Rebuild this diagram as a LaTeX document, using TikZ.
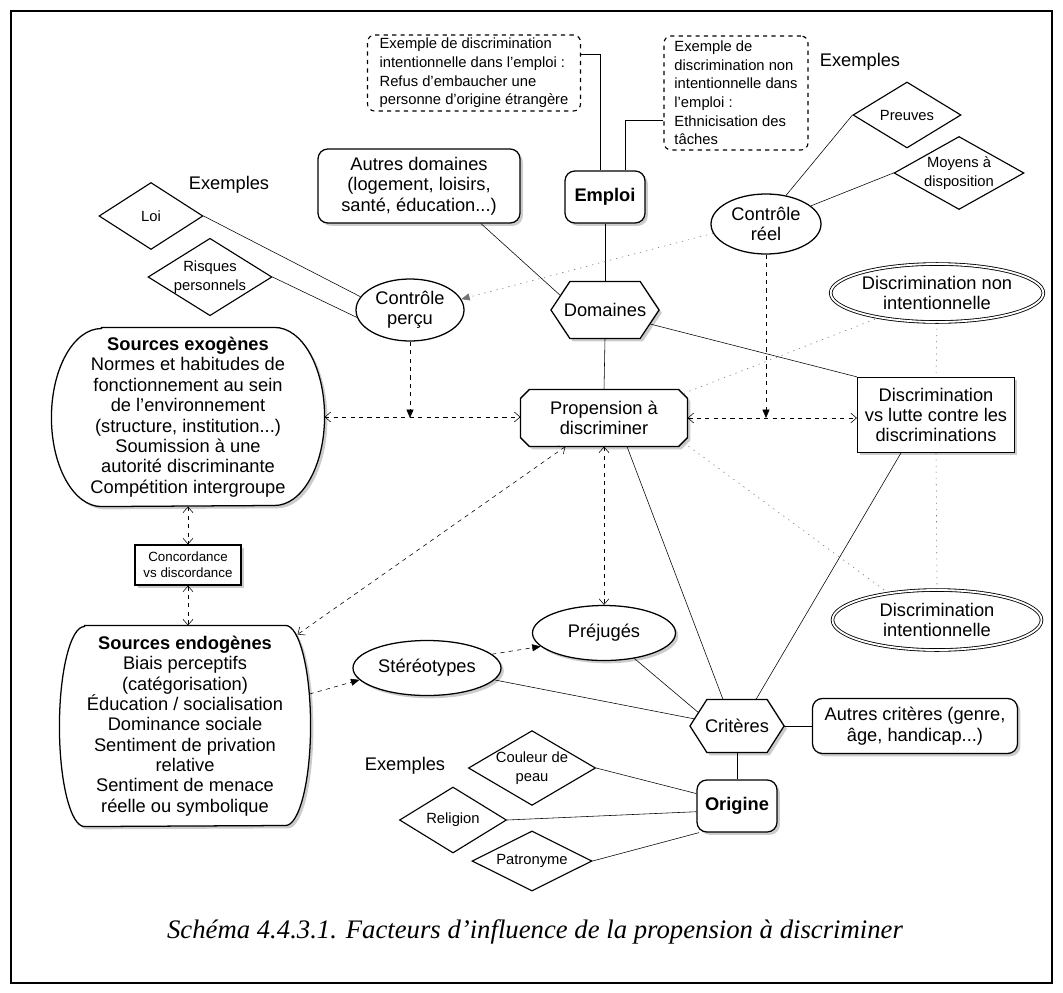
\documentclass[tikz,border=0pt]{standalone}
\usepackage{fontspec}
\setmainfont{Liberation Sans}
\newfontfamily\capfont{Liberation Serif}
\usetikzlibrary{shapes.geometric,arrows.meta,shadows,calc}
\pgfdeclarelayer{bg}
\pgfsetlayers{bg,main}
\begin{document}
\begin{tikzpicture}[x=0.025cm,y=-0.025cm,line width=0.8pt,
  wh/.style 2 args={minimum width=#1*0.025cm,minimum height=#2*0.025cm},
  lbl/.style={font=\fontsize{13}{14.5}\selectfont,align=center,inner sep=0pt},
  bold/.style={font=\fontsize{13}{14.5}\selectfont\bfseries},
  sm/.style={font=\fontsize{10.5}{13.2}\selectfont},
  shad/.style={drop shadow={shadow xshift=2pt,shadow yshift=-2pt,opacity=0.4}},
  rbox/.style={lbl,draw,fill=white,rounded corners=7pt,shad,line width=0.9pt},
  sqbox/.style={lbl,draw,fill=white,shad,line width=0.9pt},
  exbox/.style={sm,draw,dashed,rounded corners=5pt,align=left,inner xsep=4pt,inner ysep=1.5pt},
  dia/.style={diamond,draw,fill=white,sm,align=center,inner sep=0pt},
  ell/.style={ellipse,draw,fill=white,lbl,line width=0.9pt},
  dell/.style={ellipse,draw,double,double distance=1.3pt,fill=white,lbl,line width=0.6pt},
  shp/.style={draw,fill=white,shad,line width=0.9pt},
  dar/.style={dashed,-{Triangle[length=6pt,width=5pt]}},
  ddar/.style={dashed,{Straight Barb[length=4pt,width=7pt]}-{Straight Barb[length=4pt,width=7pt]}},
  dots/.style={dash pattern=on 0.9pt off 3.5pt,black!55},
  dotar/.style={dots,-{Triangle[length=6pt,width=5pt]}}]
\useasboundingbox (0,0) rectangle (1063,992);
\draw[line width=0.9pt] (11,11) rectangle (1052,983);

% ---------- nodes ----------
\node[exbox,wh={213}{76}] (d1) at (474,73) {Exemple de discrimination\\intentionnelle dans l'emploi :\\Refus d'embaucher une\\personne d'origine étrangère};
\node[exbox,wh={144}{114}] (d2) at (736,93) {Exemple de\\discrimination non\\intentionnelle dans\\l'emploi :\\Ethnicisation des\\tâches};
\node[rbox,bold,wh={80}{52}] (emploi) at (605,197) {Emploi};
\node[rbox,wh={202}{74}] (autdom) at (419,186) {Autres domaines\\(logement, loisirs,\\santé, éducation...)};
\node[lbl] (ex1) at (229,185) {Exemples};
\node[lbl] (ex2) at (860,62) {Exemples};
\node[lbl] (ex3) at (405,766) {Exemples};
\node[dia,wh={104}{67},aspect=1.55] (loi) at (151,216) {Loi};
\node[dia,wh={121}{76},aspect=1.6] (risq) at (210,277) {Risques\\personnels};
\node[dia,wh={108}{66},aspect=1.6] (preu) at (907,115) {Preuves};
\node[dia,wh={130}{73},aspect=1.78] (moy) at (959,173) {Moyens à\\disposition};
\node[ell,wh={110}{60}] (creel) at (766,224) {Contrôle\\réel};
\node[ell,wh={108}{62}] (cperc) at (410,310) {Contrôle\\perçu};
\node[lbl,wh={107}{56}] (dom) at (605,310) {Domaines};
\node[dell,wh={208}{58}] (dni) at (937,293) {Discrimination non\\intentionnelle};
\node[lbl,wh={272}{178}] (exo) at (188,417) {\textbf{Sources exogènes}\\Normes et habitudes de\\fonctionnement au sein\\de l'environnement\\(structure, institution...)\\Soumission à une\\autorité discriminante\\Compétition intergroupe};
\node[lbl,wh={166}{56}] (prop) at (604,418) {Propension à\\discriminer};
\node[sqbox,wh={157}{75}] (dvl) at (936,415) {Discrimination\\vs lutte contre les\\discriminations};
\node[sqbox,font=\fontsize{9.5}{11.5}\selectfont,wh={106}{40}] (conc) at (188,565) {Concordance\\vs discordance};
\node[dell,wh={209}{60}] (di) at (937,620) {Discrimination\\intentionnelle};
\node[lbl,wh={250}{200}] (endo) at (185,726) {\textbf{Sources endogènes}\\Biais perceptifs\\(catégorisation)\\Éducation / socialisation\\Dominance sociale\\Sentiment de privation\\relative\\Sentiment de menace\\réelle ou symbolique};
\node[ell,shad,wh={143}{55}] (prej) at (604,633) {Préjugés};
\node[ell,shad,wh={148}{55}] (stereo) at (427,668) {Stéréotypes};
\node[lbl,wh={93}{52}] (crit) at (737,726) {Critères};
\node[rbox,wh={205}{55}] (autcrit) at (915,726) {Autres critères (genre,\\âge, handicap...)};
\node[rbox,bold,wh={80}{52}] (orig) at (737,806) {Origine};
\node[dia,wh={119}{70},aspect=1.7] (coul) at (532,768) {Couleur de\\peau};
\node[dia,wh={107}{66},aspect=1.6] (rel) at (453,820) {Religion};
\node[dia,wh={120}{60},aspect=2] (patr) at (532,861) {Patronyme};
\node[font=\capfont\itshape\fontsize{19}{22}\selectfont] (cap) at (535,932) {Schéma 4.4.3.1. Facteurs d’influence de la propension à discriminer};

% ---------- custom outlines ----------
\begin{pgfonlayer}{bg}
\path[shp] ($(exo.north west)+(50,0)$) -- ($(exo.north east)+(-50,0)$)
  arc[start angle=90,end angle=-90,x radius=1.25cm,y radius=2.225cm]
  -- ($(exo.south west)+(50,0)$)
  arc[start angle=270,end angle=90,x radius=1.25cm,y radius=2.225cm] -- cycle;
\path[shp] ($(endo.north west)+(25,0)$) -- ($(endo.north east)+(-25,0)$)
  arc[start angle=90,end angle=-90,x radius=0.625cm,y radius=2.5cm]
  -- ($(endo.south west)+(25,0)$)
  arc[start angle=270,end angle=90,x radius=0.625cm,y radius=2.5cm] -- cycle;
\path[shp] (dom.west) -- ($(dom.north west)+(19,0)$) -- ($(dom.north east)+(-19,0)$) -- (dom.east)
  -- ($(dom.south east)+(-19,0)$) -- ($(dom.south west)+(19,0)$) -- cycle;
\path[shp] (crit.west) -- ($(crit.north west)+(17,0)$) -- ($(crit.north east)+(-17,0)$) -- (crit.east)
  -- ($(crit.south east)+(-17,0)$) -- ($(crit.south west)+(17,0)$) -- cycle;
\path[shp] ($(prop.north west)+(9,0)$) -- ($(prop.north east)+(-9,0)$) -- ($(prop.north east)+(0,9)$)
  -- ($(prop.south east)+(0,-9)$) -- ($(prop.south east)+(-9,0)$) -- ($(prop.south west)+(9,0)$)
  -- ($(prop.south west)+(0,-9)$) -- ($(prop.north west)+(0,9)$) -- cycle;
\end{pgfonlayer}

\coordinate (endoNE) at ($(endo.north east)+(-13,9)$);
\coordinate (endoE) at ($(endo.east)+(-1,-32)$);

% ---------- connectors ----------
\draw ($(d1.east)+(0,-19)$) -| ($(emploi.north)+(-5,0)$);
\draw ($(d2.west)+(0,27)$) -| ($(emploi.north)+(20,0)$);
\draw (emploi.south) -- (dom.north);
\draw (dom.south) -- (prop.north);
\draw ($(autdom.south)+(62,0)$) -- ($(dom.west)+(10,-14)$);
\draw ($(dom.east)+(-9,14)$) -- (dvl.north west);
\draw (loi.east) -- (cperc.165);
\draw (risq.east) -- (cperc.188);
\draw (creel.55) -- (preu.west);
\draw (creel.22) -- (moy.west);
\draw[dotar] (creel.190) -- (cperc.12);
\draw[dar] (cperc.south) -- (cperc.south |- prop.west);
\draw[dar] (creel.south) -- (creel.south |- prop.west);
\draw[ddar] (exo.east) -- (exo.east -| prop.west);
\draw[ddar] (prop.east) -- (prop.east -| dvl.west);
\draw[ddar] (exo.south) -- (conc.north);
\draw[ddar] (conc.south) -- (conc.south |- endo.north);
\draw[ddar] ($(prop.south west)+(45,0)$) -- (endoNE);
\draw[ddar] (prop.south) -- (prej.north);
\draw ($(prop.south)+(23,0)$) -- ($(crit.north)+(-14,0)$);
\draw[dots] ($(prop.north east)+(-4,4)$) -- (dni.203);
\draw[dots] ($(prop.south east)+(-4,-4)$) -- (di.151);
\draw[dots] (dni.south) -- (dvl.north);
\draw[dots] (dvl.south) -- (di.north);
\draw ($(dvl.south west)+(44,0)$) -- ($(crit.north)+(19,0)$);
\draw[dar] (endoE) -- (stereo.190);
\draw[dar] (stereo.12) -- (prej.192);
\draw (prej.-40) -- ($(crit.west)+(9,-13)$);
\draw (stereo.-10) -- ($(crit.west)+(5,-7)$);
\draw (crit.east) -- (autcrit.west);
\draw (crit.south) -- (orig.north);
\draw (coul.east) -- (orig.163);
\draw (rel.east) -- (orig.188);
\draw (patr.east) -- (orig.215);
\end{tikzpicture}
\end{document}
